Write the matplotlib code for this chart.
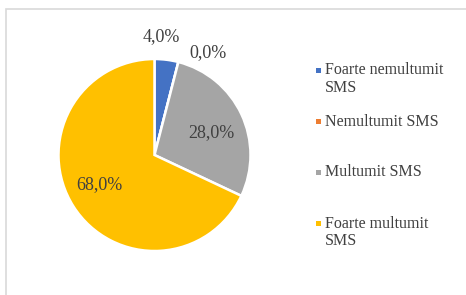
import matplotlib
matplotlib.use("Agg")
import matplotlib.pyplot as plt
from matplotlib.patches import Rectangle

categories = ["Foarte nemultumit\nSMS", "Nemultumit SMS", "Multumit SMS", "Foarte multumit\nSMS"]
values = [4.0, 0.0, 28.0, 68.0]
labels = ["4,0%", "0,0%", "28,0%", "68,0%"]
colors = ["#4472C4", "#ED7D31", "#A5A5A5", "#FFC000"]

W, H = 466, 295
fig = plt.figure(figsize=(W / 100, H / 100), dpi=100)
ax = fig.add_axes([0, 0, 1, 1])

serif = ["Liberation Serif", "DejaVu Serif"]
tcol = "#404040"

cx, cy, r = 154.5, H - 155, 96
ax.pie(values, colors=colors, startangle=90, counterclock=False, center=(cx, cy), radius=r,
       wedgeprops=dict(edgecolor="white", linewidth=1.8), frame=True)
ax.set_xlim(0, W)
ax.set_ylim(0, H)
ax.set_aspect("equal")
ax.axis("off")

# frame
ax.add_patch(Rectangle((6, -10), W + 10, H - 9 + 10, fill=False, edgecolor="#D9D9D9", lw=1.2))

# data labels (pixel positions)
label_pos = [(161, 37), (208, 53), (211, 133), (99, 185)]
for lab, (x, y) in zip(labels, label_pos):
    ax.text(x, H - y, lab, ha="center", va="center", fontsize=13, color=tcol, family=serif)

# legend
leg_y = [70, 121, 172, 223]
for cat, col, y in zip(categories, colors, leg_y):
    ax.add_patch(Rectangle((316, H - y - 2.5), 5, 5, color=col, lw=0))
    ax.text(325, H - y + 7.5, cat, ha="left", va="top", fontsize=11.5, color=tcol,
            family=serif, linespacing=1.15)

fig.savefig("out.png", dpi=100)
